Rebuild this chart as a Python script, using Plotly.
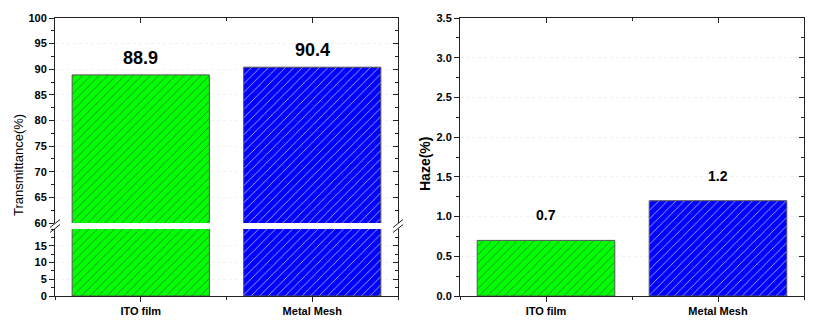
import plotly.graph_objects as go

# ---------------- data ----------------
categories = ["ITO film", "Metal Mesh"]
transmittance = [88.9, 90.4]
haze = [0.7, 1.2]
bar_colors = ["#00ff00", "#0000ff"]

xpos = list(range(len(categories)))

FONT = "Liberation Sans, Arial, sans-serif"
tickfont = dict(family=FONT, size=11, color="black", weight="bold")
LINE = "#222222"

# page body has an 8px margin, so the figure is shifted by 8px
OFF = 8
W, H = 818 - OFF, 324 - OFF
# reference plot-area edges (page pixels)
RL, RR, RT, RB = 55, 804, 18, 296
L, R, T, B = RL - OFF, 818 - RR, RT - OFF, 324 - RB
PW, PH = RR - RL, RB - RT

left_dom = [0, (398 - RL) / PW]
right_dom = [(460 - RL) / PW, 1]
low_dom = [0, (RB - 229) / PH]
up_dom = [(RB - 223) / PH, 1]

def bar(y, xa, ya):
    return go.Bar(
        x=xpos, y=y, xaxis=xa, yaxis=ya, width=0.8, showlegend=False,
        marker=dict(
            color=bar_colors,
            line=dict(color="#555555", width=1),
            pattern=dict(shape="/", size=6, solidity=0.12,
                         fgcolor="#000000", fgopacity=0.85, fillmode="overlay"),
        ),
        hoverinfo="skip",
    )

def dummy(xa, ya):
    return go.Scatter(x=[None], y=[None], xaxis=xa, yaxis=ya, showlegend=False,
                      hoverinfo="skip", mode="markers")

fig = go.Figure()
fig.add_trace(bar(transmittance, "x", "y"))
fig.add_trace(bar(transmittance, "x", "y2"))
fig.add_trace(bar(haze, "x2", "y3"))
for xa, ya in [("x3", "y2"), ("x", "y4"), ("x", "y5"), ("x4", "y3"), ("x2", "y6")]:
    fig.add_trace(dummy(xa, ya))

grid = dict(showgrid=True, gridcolor="#f1f1f1", griddash="dot", gridwidth=1)
common_line = dict(showline=True, linecolor=LINE, linewidth=1, tickcolor=LINE,
                   zeroline=False, automargin=False)

xbase = dict(range=[-0.5, 1.5], tickvals=xpos, ticktext=categories, ticks="outside",
             ticklen=5, tickfont=tickfont, showgrid=False,
             minor=dict(dtick=0.5, tick0=0, ticks="outside", ticklen=3, tickcolor=LINE),
             **common_line)
xmirror = dict(range=[-0.5, 1.5], tickvals=xpos, ticks="inside", ticklen=5,
               showticklabels=False, showgrid=False, side="top",
               minor=dict(dtick=0.5, tick0=0, ticks="inside", ticklen=3, tickcolor=LINE),
               **common_line)

def ymain(rng, dom, anchor, dtick, mdtick, tickvals=None, fmt=None):
    d = dict(range=rng, domain=dom, anchor=anchor, ticks="outside", ticklen=5,
             tickfont=tickfont, dtick=dtick,
             minor=dict(dtick=mdtick, ticks="outside", ticklen=3, tickcolor=LINE,
                        showgrid=False),
             **grid, **common_line)
    if tickvals is not None:
        d["tickvals"] = tickvals
    if fmt:
        d["tickformat"] = fmt
    return d

def ymirror(rng, over, anchor, dtick, mdtick):
    return dict(range=rng, overlaying=over, anchor=anchor, side="right", ticks="inside",
                ticklen=5, dtick=dtick, showticklabels=False, showgrid=False,
                minor=dict(dtick=mdtick, ticks="inside", ticklen=3, tickcolor=LINE),
                **common_line)

fig.update_layout(
    width=W, height=H,
    margin=dict(l=L, r=R, t=T, b=B, pad=0, autoexpand=False),
    paper_bgcolor="white", plot_bgcolor="white",
    bargap=0.2,
    xaxis=dict(domain=left_dom, anchor="y", **xbase),
    xaxis2=dict(domain=right_dom, anchor="y3", **xbase),
    xaxis3=dict(overlaying="x", anchor="y2", **xmirror),
    xaxis4=dict(overlaying="x2", anchor="y3", **xmirror),
    yaxis=ymain([0, 20], low_dom, "x", 5, 2.5, tickvals=[0, 5, 10, 15]),
    yaxis2=ymain([60, 100], up_dom, "x", 5, 2.5),
    yaxis3=ymain([0, 3.5], [0, 1], "x2", 0.5, 0.25, fmt=".1f"),
    yaxis4=ymirror([0, 20], "y", "x", 5, 2.5),
    yaxis5=ymirror([60, 100], "y2", "x", 5, 2.5),
    yaxis6=ymirror([0, 3.5], "y3", "x2", 0.5, 0.25),
)

# value labels
for i, v in enumerate(transmittance):
    fig.add_annotation(x=xpos[i], y=v, xref="x", yref="y2", text=f"{v}", showarrow=False,
                       yanchor="bottom", yshift=5,
                       font=dict(family=FONT, size=18, color="black", weight="bold"))
for i, v in enumerate(haze):
    fig.add_annotation(x=xpos[i], y=v, xref="x2", yref="y3", text=f"{v}", showarrow=False,
                       yanchor="bottom", yshift=15,
                       font=dict(family=FONT, size=14, color="black", weight="bold"))

# axis titles
fig.add_annotation(x=(18 - RL) / PW, y=(RB - 165) / PH, xref="paper", yref="paper",
                   text="Transmittance(%)", textangle=-90, showarrow=False,
                   xanchor="center", yanchor="middle",
                   font=dict(family=FONT, size=13, color="black"))
fig.add_annotation(x=(425 - RL) / PW, y=(RB - 164) / PH, xref="paper", yref="paper",
                   text="Haze(%)", textangle=-90, showarrow=False,
                   xanchor="center", yanchor="middle",
                   font=dict(family=FONT, size=14, color="black", weight="bold"))

# axis-break marks
ymid = (low_dom[1] + up_dom[0]) / 2
for xa in [0, left_dom[1]]:
    for off in (-2.5, 2.5):
        fig.add_shape(type="line", xref="paper", yref="paper",
                      xsizemode="pixel", ysizemode="pixel", xanchor=xa, yanchor=ymid,
                      x0=-5, x1=5, y0=off - 4, y1=off + 4,
                      line=dict(color=LINE, width=1))

fig.write_html("out.html")
